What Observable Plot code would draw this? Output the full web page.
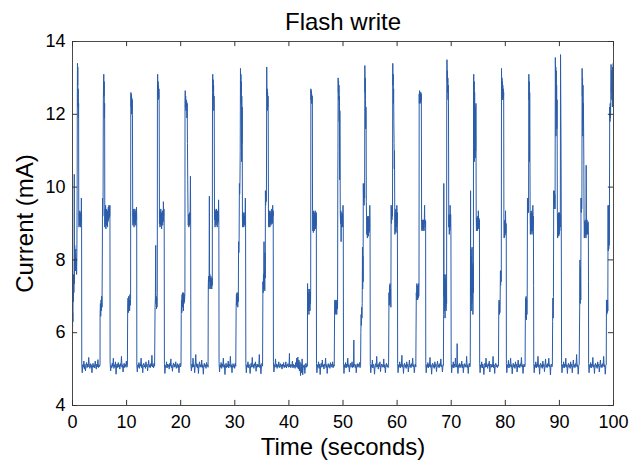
<!DOCTYPE html>
<html>
<head>
<meta charset="utf-8">
<script src="https://cdn.jsdelivr.net/npm/d3@7"></script>
<script src="https://cdn.jsdelivr.net/npm/@observablehq/plot@0.6"></script>
<style>
  html, body { margin: 0; padding: 0; background: #fff; }
  #chart { width: 630px; height: 466px; }
</style>
</head>
<body>
<div id="chart"></div>
<script>
// Labels and ticks
const title = "Flash write";
const xLabel = "Time (seconds)";
const yLabel = "Current (mA)";
const xTicks = [0, 10, 20, 30, 40, 50, 60, 70, 80, 90, 100];
const yTicks = [4, 6, 8, 10, 12, 14];

// Trace: [time (s), current (mA)], one array per write cycle (pulse + idle gap after it)
const c01 = [[0.00,5.98],[0.04,6.55],[0.08,6.3],[0.12,7.15],[0.16,6.85],[0.2,7.6],[0.25,7.1],[0.3,7.45],[0.33,10.35],[0.36,7.35],[0.41,8.4],[0.46,7.8],[0.51,8.15],[0.56,7.7],[0.61,8.3],[0.66,7.85],[0.71,8.05],[0.76,7.6],[0.81,8.2],[0.86,9.9],[0.89,12.5],[0.92,13.4],[0.95,12.8],[0.98,13.3],[1.01,12.2],[1.05,12.7],[1.09,11.9],[1.13,12.3],[1.16,9.2],[1.2,8.9],[1.25,9.3],[1.3,8.95],[1.35,9.35],[1.4,9.0],[1.45,9.3],[1.5,8.9],[1.55,9.25],[1.6,9.05],[1.64,9.7],[1.68,9.2],[1.71,5.15],[1.8,4.9],[1.9,5.12],[2.0,5.05],[2.1,5.22],[2.2,5.0],[2.3,5.13],[2.4,4.95],[2.5,5.1],[2.6,5.18],[2.7,5.04],[2.8,5.14],[2.9,5.06],[3.0,5.32],[3.1,5.08],[3.2,5.02],[3.3,5.15],[3.4,5.05],[3.5,5.12],[3.6,4.9],[3.7,5.1],[3.8,5.16],[3.9,5.05],[4.0,5.12],[4.1,5.03],[4.2,5.22],[4.3,5.08],[4.4,5.0],[4.5,5.14],[4.6,5.06],[4.7,5.26],[4.8,5.04],[4.9,5.12],[5.0,5.07]];
const c02 = [[5.09,5.12],[5.1,6.5],[5.16,6.8],[5.22,6.45],[5.28,6.9],[5.34,6.6],[5.4,7.0],[5.46,6.7],[5.52,8.3],[5.55,9.7],[5.6,9.2],[5.65,9.6],[5.7,12.4],[5.74,12.8],[5.78,13.1],[5.82,12.5],[5.86,12.9],[5.9,11.9],[5.94,12.3],[5.97,8.9],[6.02,9.4],[6.07,9.0],[6.12,9.5],[6.17,8.85],[6.22,9.3],[6.27,8.95],[6.32,9.4],[6.37,9.0],[6.42,9.35],[6.47,8.9],[6.52,9.3],[6.57,9.05],[6.62,9.45],[6.67,9.1],[6.72,9.5],[6.77,9.15],[6.82,9.45],[6.87,9.2],[6.92,9.5],[6.95,5.2],[7.05,4.95],[7.15,5.1],[7.25,5.04],[7.35,5.16],[7.45,5.07],[7.55,5.3],[7.65,5.02],[7.75,5.12],[7.85,5.06],[7.95,5.2],[8.05,4.86],[8.15,5.1],[8.25,5.14],[8.35,5.04],[8.45,5.18],[8.55,5.06],[8.65,5.12],[8.75,5.0],[8.85,5.15],[8.95,5.08],[9.05,5.35],[9.15,5.05],[9.25,5.12],[9.35,4.92],[9.45,5.1],[9.55,5.16],[9.65,5.04],[9.75,5.13],[9.85,5.07],[9.95,5.22],[10.05,5.05],[10.15,5.1]];
const c03 = [[10.2,6.7],[10.26,6.95],[10.32,6.55],[10.38,7.0],[10.44,6.7],[10.5,6.9],[10.56,6.6],[10.62,7.05],[10.68,6.75],[10.74,6.95],[10.77,12.0],[10.8,12.6],[10.84,12.2],[10.88,12.55],[10.92,12.0],[10.96,12.45],[11.0,12.1],[11.04,12.4],[11.08,12.0],[11.13,9.2],[11.18,8.95],[11.23,9.35],[11.28,9.0],[11.33,9.4],[11.38,8.9],[11.43,9.3],[11.48,9.05],[11.53,9.4],[11.58,9.0],[11.63,9.3],[11.68,8.95],[11.73,9.35],[11.78,9.1],[11.83,9.45],[11.87,9.2],[11.89,5.1],[11.98,4.92],[12.08,5.12],[12.18,5.05],[12.28,5.18],[12.38,5.02],[12.48,5.14],[12.58,5.08],[12.68,5.3],[12.78,5.04],[12.88,5.12],[12.98,4.9],[13.08,5.1],[13.18,5.16],[13.28,5.06],[13.38,5.12],[13.48,5.02],[13.58,5.2],[13.68,5.07],[13.78,5.13],[13.88,4.95],[13.98,5.1],[14.08,5.24],[14.18,5.05],[14.28,5.12],[14.38,5.04],[14.48,5.15],[14.58,5.08],[14.68,5.38],[14.78,5.06],[14.88,5.12],[14.98,5.03],[15.08,5.16],[15.18,5.08]];
const c04 = [[15.26,6.7],[15.32,6.95],[15.38,8.4],[15.42,6.8],[15.47,7.0],[15.52,6.65],[15.57,6.95],[15.62,6.7],[15.67,7.1],[15.7,12.6],[15.74,13.1],[15.78,12.5],[15.82,12.9],[15.86,12.4],[15.9,12.8],[15.94,12.45],[15.98,12.7],[16.02,12.4],[16.07,9.0],[16.12,9.35],[16.17,8.9],[16.22,9.3],[16.27,8.95],[16.32,9.4],[16.37,9.0],[16.42,9.25],[16.47,8.85],[16.52,9.3],[16.57,9.0],[16.62,9.35],[16.67,8.95],[16.72,9.3],[16.77,9.05],[16.8,9.6],[16.85,9.2],[16.9,9.4],[16.95,9.1],[16.99,5.15],[17.08,4.88],[17.18,5.1],[17.28,5.05],[17.38,5.2],[17.48,5.03],[17.58,5.14],[17.68,5.06],[17.78,5.12],[17.88,5.0],[17.98,5.16],[18.08,5.08],[18.18,5.28],[18.28,5.04],[18.38,5.1],[18.48,4.94],[18.58,5.12],[18.68,5.17],[18.78,5.05],[18.88,5.13],[18.98,5.07],[19.08,5.2],[19.18,5.02],[19.28,5.1],[19.38,5.15],[19.48,5.04],[19.58,5.12],[19.68,4.9],[19.78,5.1],[19.88,5.16],[19.98,5.06],[20.06,5.12]];
const c05 = [[20.1,6.5],[20.15,6.9],[20.2,6.55],[20.25,7.05],[20.3,6.7],[20.35,7.1],[20.4,6.8],[20.45,7.0],[20.5,6.6],[20.55,7.1],[20.6,6.8],[20.65,7.05],[20.7,6.85],[20.78,7.1],[20.8,12.3],[20.84,12.65],[20.88,12.2],[20.92,12.5],[20.96,12.1],[21.0,12.4],[21.05,12.2],[21.1,12.35],[21.15,11.9],[21.2,12.3],[21.25,11.2],[21.3,10.2],[21.35,9.3],[21.4,8.95],[21.45,9.25],[21.5,8.9],[21.55,9.2],[21.6,8.95],[21.65,9.3],[21.7,9.0],[21.75,9.25],[21.8,10.3],[21.84,9.2],[21.88,5.1],[21.98,4.95],[22.08,5.14],[22.18,5.05],[22.28,5.3],[22.38,5.06],[22.48,5.12],[22.58,4.9],[22.68,5.1],[22.78,5.4],[22.88,5.07],[22.98,5.15],[23.08,5.03],[23.18,5.13],[23.28,4.88],[23.38,5.12],[23.48,5.2],[23.58,5.05],[23.68,5.12],[23.78,5.06],[23.88,5.25],[23.98,5.04],[24.08,5.12],[24.18,4.86],[24.28,5.1],[24.38,5.16],[24.48,5.06],[24.58,5.12],[24.68,5.02],[24.78,5.18],[24.88,5.08],[24.98,5.12],[25.06,5.05]];
const c06 = [[25.1,7.3],[25.15,7.55],[25.2,7.2],[25.25,7.5],[25.3,9.75],[25.34,7.4],[25.39,7.6],[25.44,7.2],[25.49,7.5],[25.54,7.25],[25.59,7.55],[25.64,7.3],[25.69,7.45],[25.74,7.2],[25.79,7.5],[25.84,7.3],[25.88,12.6],[25.92,13.1],[25.96,12.7],[26.0,12.95],[26.04,12.4],[26.08,12.8],[26.12,12.1],[26.16,12.5],[26.2,12.1],[26.25,9.1],[26.3,9.4],[26.35,8.9],[26.4,9.35],[26.45,9.0],[26.5,9.3],[26.55,8.95],[26.6,9.4],[26.65,9.05],[26.7,9.3],[26.75,8.9],[26.8,9.35],[26.85,9.0],[26.9,9.3],[26.95,9.05],[27.0,9.65],[27.05,9.2],[27.09,5.2],[27.18,4.92],[27.28,5.12],[27.38,5.05],[27.48,5.18],[27.58,5.02],[27.68,5.14],[27.78,5.07],[27.88,5.3],[27.98,5.05],[28.08,5.12],[28.18,4.85],[28.28,5.1],[28.38,5.16],[28.48,5.04],[28.58,5.12],[28.68,5.06],[28.78,5.22],[28.88,5.03],[28.98,5.13],[29.08,5.08],[29.18,5.35],[29.28,5.05],[29.38,5.12],[29.48,4.9],[29.58,5.1],[29.68,5.15],[29.78,5.05],[29.88,5.12],[29.98,5.02],[30.08,5.16],[30.18,5.08]];
const c07 = [[30.25,6.7],[30.3,7.05],[30.35,6.75],[30.4,7.1],[30.45,6.8],[30.5,7.0],[30.55,6.7],[30.6,7.1],[30.65,6.85],[30.7,8.5],[30.75,8.2],[30.8,8.55],[30.85,10.1],[30.9,9.8],[30.95,10.1],[31.0,11.0],[31.05,13.26],[31.09,12.6],[31.13,13.1],[31.17,12.3],[31.21,12.9],[31.25,10.7],[31.29,12.5],[31.33,11.2],[31.37,12.2],[31.41,9.1],[31.46,8.9],[31.51,9.3],[31.56,8.95],[31.61,9.25],[31.66,8.9],[31.71,9.3],[31.76,9.0],[31.81,9.2],[31.86,8.95],[31.91,9.3],[31.95,9.7],[31.99,9.1],[32.04,5.15],[32.13,4.9],[32.23,5.12],[32.33,5.05],[32.43,5.2],[32.53,5.04],[32.63,5.13],[32.73,5.07],[32.83,4.88],[32.93,5.1],[33.03,5.16],[33.13,5.05],[33.23,5.32],[33.33,5.06],[33.43,5.12],[33.53,5.02],[33.63,5.15],[33.73,5.08],[33.83,5.2],[33.93,4.94],[34.03,5.1],[34.13,5.14],[34.23,5.05],[34.33,5.12],[34.43,5.06],[34.53,5.4],[34.63,5.04],[34.73,5.12],[34.83,4.87],[34.93,5.1],[35.03,5.16],[35.13,5.08]];
const c08 = [[35.2,7.4],[35.25,7.1],[35.3,7.6],[35.35,7.2],[35.4,8.5],[35.44,7.3],[35.49,7.7],[35.54,7.15],[35.59,8.2],[35.63,7.5],[35.66,9.9],[35.7,9.5],[35.75,9.9],[35.8,9.6],[35.85,9.9],[35.9,13.3],[35.94,12.5],[35.98,12.7],[36.02,12.1],[36.06,12.6],[36.1,12.2],[36.14,12.5],[36.18,12.1],[36.22,9.4],[36.27,8.9],[36.32,9.35],[36.37,9.0],[36.42,9.3],[36.47,8.9],[36.52,9.35],[36.57,9.0],[36.62,9.25],[36.67,8.95],[36.72,9.3],[36.77,9.0],[36.82,9.4],[36.87,9.05],[36.92,9.3],[36.97,9.0],[37.0,9.5],[37.05,9.2],[37.1,9.35],[37.14,5.2],[37.23,4.92],[37.33,5.12],[37.43,5.05],[37.53,5.28],[37.63,5.06],[37.73,5.14],[37.83,5.02],[37.93,5.12],[38.03,5.07],[38.13,5.2],[38.23,5.04],[38.33,5.1],[38.43,5.15],[38.53,5.05],[38.63,5.12],[38.73,5.0],[38.83,5.14],[38.93,5.07],[39.03,5.18],[39.13,5.04],[39.23,5.11],[39.33,5.06],[39.43,5.2],[39.53,5.03],[39.63,5.12],[39.73,5.08],[39.83,5.15],[39.93,5.05],[40.03,5.1],[40.1,5.43],[40.15,5.06],[40.25,5.13],[40.35,5.04],[40.45,5.12],[40.55,5.07],[40.65,5.22],[40.75,5.03],[40.85,5.14],[40.95,5.06],[41.05,5.11],[41.15,5.02],[41.25,5.18],[41.35,5.06],[41.45,5.3],[41.55,5.04],[41.65,5.33],[41.75,5.0],[41.85,5.25],[41.95,4.95],[42.05,5.2],[42.15,4.82],[42.25,5.15],[42.35,4.9],[42.45,5.28],[42.55,4.84],[42.65,5.1],[42.75,5.05],[42.85,5.12],[42.95,4.88],[43.05,5.1],[43.15,5.16],[43.25,5.05],[43.35,5.12],[43.42,5.08]];
const c09 = [[43.45,7.35],[43.5,6.8],[43.55,7.2],[43.6,6.6],[43.65,7.1],[43.7,6.5],[43.75,7.0],[43.8,6.7],[43.85,7.2],[43.9,6.6],[43.95,7.1],[44.0,6.8],[44.03,7.2],[44.06,12.7],[44.1,12.4],[44.14,12.65],[44.18,12.3],[44.22,12.55],[44.26,12.3],[44.3,12.5],[44.34,12.35],[44.37,9.35],[44.42,8.8],[44.47,9.3],[44.52,8.75],[44.57,9.35],[44.62,8.85],[44.67,9.3],[44.72,8.8],[44.77,9.25],[44.82,8.9],[44.87,9.35],[44.92,8.85],[44.97,9.2],[45.02,8.95],[45.07,9.3],[45.1,5.15],[45.18,4.9],[45.28,5.12],[45.38,5.05],[45.48,5.2],[45.58,5.02],[45.68,5.14],[45.78,4.85],[45.88,5.1],[45.98,5.16],[46.08,5.05],[46.18,5.25],[46.28,5.06],[46.38,5.12],[46.48,5.0],[46.58,5.14],[46.68,5.08],[46.78,5.3],[46.88,5.04],[46.98,5.12],[47.08,4.88],[47.18,5.1],[47.28,5.15],[47.38,5.05],[47.48,5.12],[47.58,5.02],[47.68,5.18],[47.78,5.07],[47.88,5.13],[47.98,5.05],[48.08,5.2],[48.18,5.04],[48.28,5.12],[48.38,5.08]];
const c10 = [[48.45,6.7],[48.5,6.9],[48.55,6.5],[48.6,6.85],[48.65,6.55],[48.7,6.9],[48.75,6.6],[48.8,6.85],[48.85,6.5],[48.9,6.9],[48.95,6.65],[49.0,6.8],[49.04,10.2],[49.07,11.0],[49.1,13.0],[49.14,12.6],[49.18,12.9],[49.22,12.4],[49.26,12.8],[49.3,11.8],[49.34,12.5],[49.38,10.2],[49.42,12.1],[49.46,10.8],[49.5,9.27],[49.55,9.0],[49.6,9.35],[49.65,8.5],[49.7,9.2],[49.75,8.9],[49.8,9.3],[49.85,8.95],[49.9,9.25],[49.95,8.9],[50.0,9.5],[50.05,9.1],[50.09,5.2],[50.18,4.88],[50.28,5.12],[50.38,5.05],[50.48,5.18],[50.58,5.03],[50.68,5.14],[50.78,5.07],[50.88,5.3],[50.98,5.05],[51.08,5.12],[51.18,4.92],[51.28,5.1],[51.38,5.16],[51.48,5.05],[51.58,5.12],[51.68,5.2],[51.78,5.04],[51.88,5.12],[51.95,5.06],[52.0,5.8],[52.05,5.1],[52.15,5.14],[52.25,5.04],[52.35,5.12],[52.45,4.9],[52.55,5.1],[52.65,5.15],[52.75,5.05],[52.85,5.13],[52.95,5.07],[53.05,5.18],[53.15,5.04],[53.25,5.1]];
const c11 = [[53.3,6.0],[53.35,6.5],[53.4,6.2],[53.45,6.7],[53.5,6.4],[53.55,6.8],[53.6,8.35],[53.64,7.2],[53.68,8.1],[53.72,7.4],[53.75,10.1],[53.8,9.6],[53.85,10.0],[53.9,9.5],[53.95,10.1],[54.0,9.7],[54.04,13.34],[54.08,12.6],[54.12,13.0],[54.16,12.4],[54.2,11.6],[54.24,12.2],[54.28,11.7],[54.31,9.6],[54.35,9.2],[54.4,8.7],[54.45,9.15],[54.5,8.6],[54.55,9.2],[54.6,8.7],[54.65,9.1],[54.7,8.65],[54.75,9.2],[54.8,8.75],[54.85,9.1],[54.9,8.8],[54.95,9.5],[55.0,9.0],[55.04,5.15],[55.13,4.9],[55.23,5.12],[55.33,5.05],[55.43,5.25],[55.53,5.03],[55.63,5.13],[55.73,5.07],[55.83,4.86],[55.93,5.1],[56.03,5.15],[56.13,5.05],[56.23,5.35],[56.33,5.06],[56.43,5.12],[56.53,5.0],[56.63,5.15],[56.73,5.07],[56.83,5.2],[56.93,4.93],[57.03,5.1],[57.13,5.14],[57.23,5.05],[57.33,5.12],[57.43,5.06],[57.53,5.28],[57.63,5.04],[57.73,5.12],[57.83,4.9],[57.93,5.1],[58.03,5.16],[58.13,5.06],[58.23,5.12],[58.33,5.04],[58.43,5.1]];
const c12 = [[58.5,7.1],[58.55,6.75],[58.6,7.3],[58.65,6.8],[58.7,7.35],[58.75,6.9],[58.8,7.2],[58.85,6.7],[58.9,9.5],[58.95,9.0],[59.0,9.4],[59.05,9.1],[59.1,9.5],[59.15,9.2],[59.2,13.4],[59.24,12.8],[59.28,13.1],[59.32,12.3],[59.36,12.7],[59.4,11.8],[59.44,11.2],[59.48,10.5],[59.52,11.0],[59.56,9.45],[59.6,8.7],[59.65,9.3],[59.7,8.8],[59.75,9.4],[59.8,8.75],[59.85,9.3],[59.9,8.9],[59.95,9.5],[60.0,9.0],[60.05,9.3],[60.08,7.2],[60.1,5.15],[60.18,4.9],[60.28,5.12],[60.38,5.06],[60.48,5.2],[60.58,5.03],[60.68,5.14],[60.78,5.07],[60.88,5.38],[60.98,5.05],[61.08,5.12],[61.18,4.88],[61.28,5.1],[61.38,5.16],[61.48,5.05],[61.58,5.12],[61.68,5.02],[61.78,5.2],[61.88,5.07],[61.98,5.13],[62.08,4.92],[62.18,5.1],[62.28,5.25],[62.38,5.05],[62.48,5.12],[62.58,5.04],[62.68,5.15],[62.78,5.08],[62.88,5.3],[62.98,5.06],[63.08,5.12],[63.18,4.9],[63.28,5.1],[63.38,5.14],[63.46,5.06]];
const c13 = [[63.5,6.0],[63.55,7.1],[63.6,6.9],[63.65,7.35],[63.7,6.95],[63.75,7.3],[63.8,6.9],[63.85,7.25],[63.9,6.95],[63.95,7.35],[64.0,7.0],[64.05,7.3],[64.08,12.56],[64.12,12.3],[64.16,12.65],[64.2,12.4],[64.24,12.6],[64.28,12.3],[64.32,12.55],[64.36,12.35],[64.4,12.6],[64.44,12.4],[64.48,12.55],[64.53,9.1],[64.58,8.8],[64.63,9.1],[64.68,8.85],[64.73,9.1],[64.78,8.8],[64.83,9.05],[64.88,8.85],[64.93,9.1],[64.98,8.8],[65.03,9.05],[65.08,9.5],[65.12,9.0],[65.17,9.1],[65.22,8.9],[65.27,9.05],[65.3,5.15],[65.38,4.9],[65.48,5.12],[65.58,5.05],[65.68,5.18],[65.78,5.03],[65.88,5.14],[65.98,5.07],[66.08,5.32],[66.18,5.05],[66.28,5.12],[66.38,4.86],[66.48,5.1],[66.58,5.16],[66.68,5.05],[66.78,5.12],[66.88,5.02],[66.98,5.2],[67.08,5.07],[67.18,5.13],[67.28,4.93],[67.38,5.1],[67.48,5.22],[67.58,5.05],[67.68,5.12],[67.78,5.04],[67.88,5.15],[67.98,5.08],[68.08,5.28],[68.18,5.06],[68.28,5.12],[68.38,4.92],[68.48,5.1],[68.56,5.1]];
const c14 = [[68.6,6.5],[68.63,10.1],[68.66,7.0],[68.71,7.6],[68.76,6.6],[68.81,7.4],[68.86,6.4],[68.91,7.5],[68.96,6.7],[69.01,7.6],[69.06,6.6],[69.11,7.3],[69.15,6.8],[69.18,12.8],[69.22,13.5],[69.26,12.9],[69.3,13.2],[69.34,12.6],[69.38,13.0],[69.42,12.4],[69.46,12.8],[69.5,12.2],[69.55,8.9],[69.6,9.25],[69.65,8.7],[69.7,9.2],[69.75,8.8],[69.8,9.5],[69.85,8.9],[69.9,9.25],[69.95,8.8],[70.0,5.15],[70.08,4.9],[70.18,5.12],[70.28,5.05],[70.38,5.2],[70.48,5.03],[70.58,5.14],[70.68,5.07],[70.78,5.3],[70.88,5.05],[70.98,5.12],[71.05,5.06],[71.1,5.7],[71.15,5.1],[71.25,4.88],[71.35,5.12],[71.45,5.05],[71.55,5.16],[71.65,5.04],[71.75,5.12],[71.85,5.07],[71.95,5.22],[72.05,5.03],[72.15,5.13],[72.25,4.9],[72.35,5.1],[72.45,5.15],[72.55,5.05],[72.65,5.12],[72.75,5.06],[72.85,5.35],[72.95,5.04],[73.05,5.12],[73.15,4.88],[73.25,5.1],[73.35,5.16],[73.45,5.06],[73.52,5.1]];
const c15 = [[73.55,6.6],[73.58,9.9],[73.61,7.0],[73.66,8.3],[73.71,6.6],[73.76,8.1],[73.81,6.8],[73.86,8.35],[73.91,6.9],[73.96,7.8],[74.01,6.5],[74.06,7.9],[74.1,7.1],[74.13,12.9],[74.17,13.1],[74.21,12.5],[74.25,12.9],[74.29,10.7],[74.33,12.6],[74.37,11.4],[74.41,12.2],[74.45,10.8],[74.49,12.0],[74.53,11.0],[74.57,12.3],[74.62,9.2],[74.67,8.8],[74.72,9.15],[74.77,8.85],[74.82,9.2],[74.87,8.8],[74.92,9.1],[74.97,8.85],[75.02,9.35],[75.07,8.9],[75.12,9.15],[75.17,8.85],[75.22,9.1],[75.24,7.2],[75.26,5.15],[75.34,4.9],[75.44,5.12],[75.54,5.05],[75.64,5.2],[75.74,5.03],[75.84,5.14],[75.94,5.07],[76.04,4.85],[76.14,5.1],[76.24,5.16],[76.34,5.05],[76.44,5.3],[76.54,5.06],[76.64,5.12],[76.74,5.02],[76.84,5.15],[76.94,5.08],[77.04,5.22],[77.14,4.92],[77.24,5.1],[77.34,5.14],[77.44,5.05],[77.54,5.12],[77.64,5.06],[77.74,5.35],[77.84,5.04],[77.94,5.12],[78.04,4.88],[78.14,5.1],[78.24,5.16],[78.34,5.06],[78.44,5.12],[78.54,5.04],[78.64,5.1],[78.74,5.08]];
const c16 = [[78.8,6.7],[78.85,6.9],[78.9,6.5],[78.95,6.85],[79.0,6.55],[79.05,6.9],[79.1,7.7],[79.14,7.3],[79.18,7.7],[79.22,7.4],[79.26,7.6],[79.3,13.26],[79.34,12.6],[79.38,13.0],[79.42,12.4],[79.46,12.9],[79.5,12.5],[79.54,12.8],[79.58,12.4],[79.62,12.7],[79.66,12.45],[79.7,12.6],[79.74,9.1],[79.79,8.6],[79.84,9.05],[79.89,8.65],[79.94,9.1],[79.99,8.7],[80.04,9.35],[80.09,8.75],[80.14,9.0],[80.18,8.8],[80.2,5.15],[80.28,4.9],[80.38,5.12],[80.48,5.05],[80.58,5.24],[80.68,5.03],[80.78,5.14],[80.88,5.07],[80.98,5.3],[81.08,5.05],[81.18,5.12],[81.28,4.87],[81.38,5.1],[81.48,5.16],[81.58,5.05],[81.68,5.12],[81.78,5.02],[81.88,5.2],[81.98,5.07],[82.08,5.13],[82.18,4.92],[82.28,5.1],[82.38,5.25],[82.48,5.05],[82.58,5.12],[82.68,5.04],[82.78,5.15],[82.88,5.08],[82.98,5.32],[83.08,5.06],[83.18,5.12],[83.28,4.88],[83.38,5.1],[83.48,5.14],[83.58,5.06],[83.66,5.1]];
const c17 = [[83.7,6.3],[83.75,6.95],[83.8,6.4],[83.85,7.0],[83.9,6.35],[83.95,6.9],[84.0,6.5],[84.05,7.0],[84.1,9.7],[84.14,9.3],[84.18,9.7],[84.22,9.4],[84.26,9.6],[84.3,9.3],[84.35,13.1],[84.39,12.4],[84.43,12.9],[84.47,10.7],[84.51,12.6],[84.55,11.3],[84.59,9.35],[84.64,8.7],[84.69,9.3],[84.74,8.75],[84.79,9.35],[84.84,8.8],[84.89,9.25],[84.94,8.7],[84.99,9.3],[85.04,8.8],[85.09,9.5],[85.14,8.9],[85.19,9.2],[85.23,7.3],[85.26,5.15],[85.34,4.9],[85.44,5.12],[85.54,5.05],[85.64,5.2],[85.74,5.03],[85.84,5.14],[85.94,5.07],[86.04,5.35],[86.14,5.05],[86.24,5.12],[86.34,4.86],[86.44,5.1],[86.54,5.16],[86.64,5.05],[86.74,5.12],[86.84,5.02],[86.94,5.22],[87.04,5.07],[87.14,5.13],[87.24,4.93],[87.34,5.1],[87.44,5.28],[87.54,5.05],[87.64,5.12],[87.74,5.04],[87.84,5.15],[87.94,5.08],[88.04,5.3],[88.14,5.06],[88.24,5.12],[88.34,4.84],[88.44,5.1],[88.54,5.14],[88.62,5.06],[88.7,5.1]];
const c18 = [[88.75,6.3],[88.8,6.95],[88.85,6.4],[88.9,7.0],[88.95,9.9],[89.0,9.4],[89.05,9.9],[89.1,9.5],[89.15,9.8],[89.2,9.4],[89.25,13.56],[89.29,12.9],[89.33,13.3],[89.37,11.4],[89.41,13.2],[89.45,12.0],[89.49,12.8],[89.53,11.6],[89.57,12.4],[89.62,9.3],[89.67,8.6],[89.72,9.25],[89.77,8.7],[89.82,9.3],[89.87,8.65],[89.92,9.2],[89.97,8.7],[90.02,9.3],[90.07,8.8],[90.12,9.25],[90.17,8.9],[90.21,13.64],[90.25,12.5],[90.29,11.4],[90.33,10.0],[90.37,7.5],[90.4,5.15],[90.48,4.9],[90.58,5.12],[90.68,5.05],[90.78,5.2],[90.88,5.03],[90.98,5.14],[91.08,5.07],[91.18,5.3],[91.28,5.05],[91.38,5.12],[91.48,4.88],[91.58,5.1],[91.68,5.16],[91.78,5.05],[91.88,5.12],[91.98,5.02],[92.08,5.2],[92.18,5.07],[92.28,5.13],[92.38,4.9],[92.48,5.1],[92.58,5.25],[92.68,5.05],[92.78,5.12],[92.88,5.04],[92.98,5.15],[93.08,5.08],[93.18,5.4],[93.28,5.06],[93.38,5.12],[93.48,4.86],[93.58,5.1],[93.66,5.12]];
const c19 = [[93.75,6.7],[93.8,8.0],[93.85,6.8],[93.9,7.8],[93.95,6.9],[94.0,9.7],[94.04,9.3],[94.08,9.7],[94.12,9.4],[94.16,9.6],[94.2,13.26],[94.24,12.5],[94.28,13.0],[94.32,11.4],[94.36,12.8],[94.4,11.8],[94.44,12.3],[94.48,11.5],[94.52,10.6],[94.56,9.1],[94.61,8.6],[94.66,9.05],[94.71,8.65],[94.76,9.1],[94.81,8.7],[94.86,9.0],[94.91,8.6],[94.95,10.6],[95.0,9.0],[95.05,8.7],[95.1,9.1],[95.15,8.75],[95.2,9.0],[95.25,8.7],[95.3,9.05],[95.35,8.8],[95.38,7.4],[95.4,5.15],[95.48,4.9],[95.58,5.12],[95.68,5.05],[95.78,5.18],[95.88,5.03],[95.98,5.14],[96.08,5.07],[96.18,5.32],[96.28,5.05],[96.38,5.12],[96.48,4.88],[96.58,5.1],[96.68,5.16],[96.78,5.05],[96.88,5.12],[96.98,5.02],[97.08,5.2],[97.18,5.07],[97.28,5.13],[97.38,4.92],[97.48,5.1],[97.58,5.25],[97.68,5.05],[97.78,5.12],[97.88,5.04],[97.98,5.15],[98.08,5.08],[98.18,5.35],[98.28,5.06],[98.38,5.12],[98.48,4.86],[98.58,5.1],[98.66,5.12]];
const c20 = [[98.7,6.9],[98.75,6.5],[98.8,6.85],[98.85,6.55],[98.9,6.9],[98.95,6.6],[99.0,9.5],[99.04,8.25],[99.08,9.4],[99.12,8.3],[99.16,9.5],[99.2,8.4],[99.25,9.3],[99.3,12.2],[99.35,11.8],[99.4,12.3],[99.45,11.9],[99.5,12.4],[99.55,13.37],[99.6,12.6],[99.65,13.2],[99.7,12.4],[99.75,13.1],[99.8,12.2],[99.85,13.3],[99.9,12.5],[99.95,13.4],[100.0,12.8]];

const cycles = [c01, c02, c03, c04, c05, c06, c07, c08, c09, c10, c11, c12, c13, c14, c15, c16, c17, c18, c19, c20];
const trace = cycles.flat().map(([t, mA]) => ({t, mA}));

const FONT = "'Liberation Sans', Arial, Helvetica, sans-serif";
const BLUE = "#2a5caa";

const chart = Plot.plot({
  width: 630,
  height: 466,
  marginLeft: 72,
  marginRight: 17,
  marginTop: 41,
  marginBottom: 61,
  style: {fontFamily: FONT, fontSize: "18px", color: "#000", background: "#fff"},
  x: {domain: [0, 100]},
  y: {domain: [4, 14]},
  marks: [
    Plot.line(trace, {x: "t", y: "mA", stroke: BLUE, strokeWidth: 1}),
    Plot.frame({stroke: "#4a4a4a", strokeWidth: 1}),
    // inward ticks on all four sides (MATLAB style)
    Plot.ruleX(xTicks, {x: d => d, y1: 4, y2: 4.14, stroke: "#333"}),
    Plot.ruleX(xTicks, {x: d => d, y1: 13.86, y2: 14, stroke: "#333"}),
    Plot.ruleY(yTicks, {y: d => d, x1: 0, x2: 0.95, stroke: "#333"}),
    Plot.ruleY(yTicks, {y: d => d, x1: 99.05, x2: 100, stroke: "#333"}),
    Plot.axisX({ticks: xTicks, tickSize: 0, tickPadding: 10, label: null, fontSize: 18}),
    Plot.axisY({ticks: yTicks, tickSize: 0, tickPadding: 7, label: null, fontSize: 18}),
    Plot.text([title], {frameAnchor: "top", textAnchor: "middle", lineAnchor: "middle", dy: -19, fontSize: 24, fill: "#000"}),
    Plot.text([xLabel], {frameAnchor: "bottom", textAnchor: "middle", lineAnchor: "middle", dy: 42, fontSize: 24, fill: "#000"}),
    Plot.text([yLabel], {frameAnchor: "left", textAnchor: "middle", lineAnchor: "middle", dx: -47, rotate: -90, fontSize: 24, fill: "#000"})
  ]
});
document.getElementById("chart").appendChild(chart);
</script>
</body>
</html>
